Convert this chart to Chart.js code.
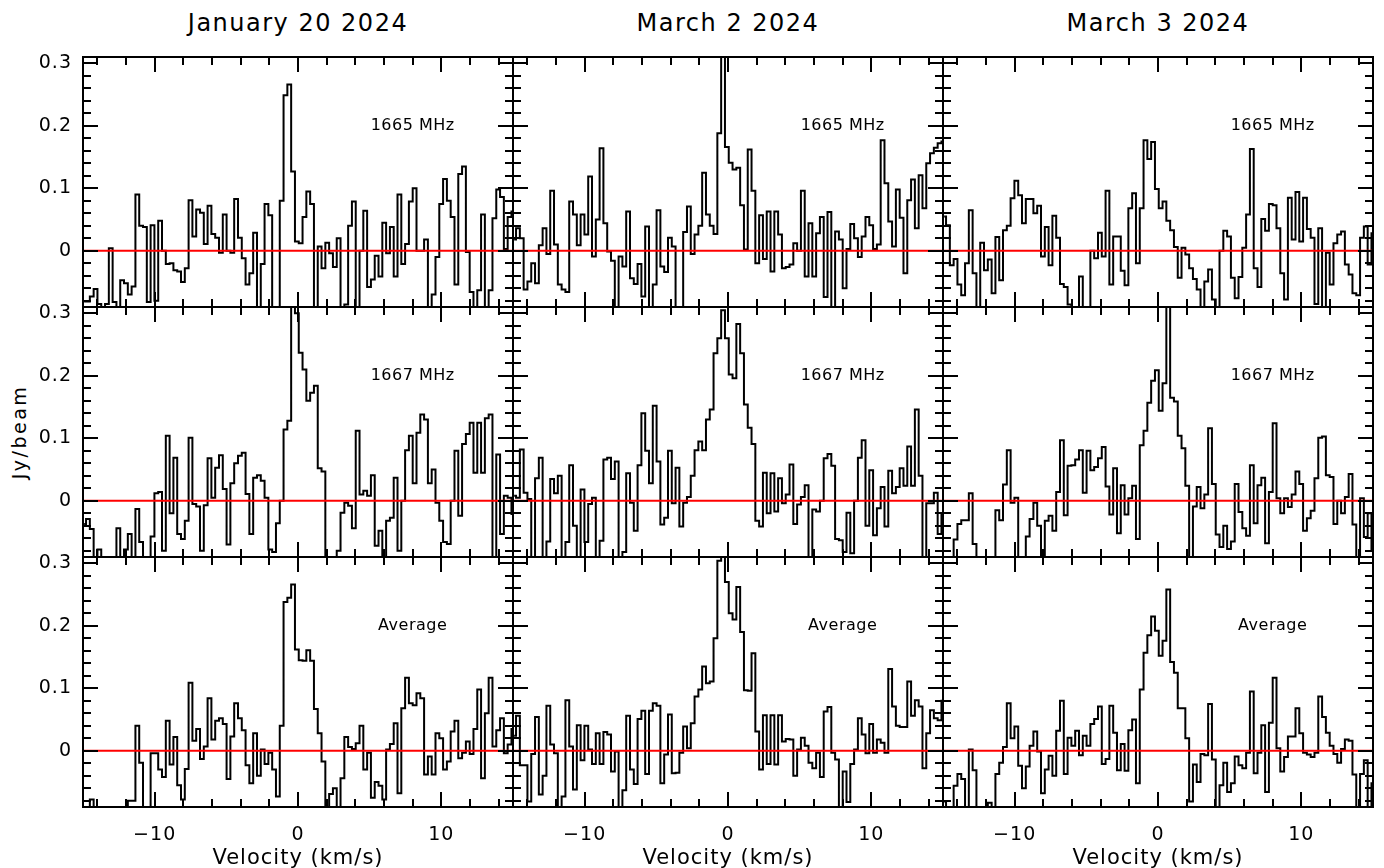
<!DOCTYPE html>
<html>
<head>
<meta charset="utf-8">
<script src="https://cdn.jsdelivr.net/npm/chart.js@4.4.1/dist/chart.umd.min.js"></script>
<style>
  body { margin: 0; background: #fff; overflow: hidden; }
  #fig { position: relative; width: 1384px; height: 868px; font-family: 'DejaVu Sans', sans-serif; color: #000; }
  .panel { position: absolute; }
  .coltitle { position: absolute; top: 11px; font-size: 24px; line-height: 24px; letter-spacing: 1.5px; white-space: nowrap; transform: translateX(-50%); }
  .ylab { position: absolute; left: 19px; top: 432px; font-size: 19px; letter-spacing: 2.5px; white-space: nowrap; transform: translate(-50%, -50%) rotate(-90deg); }
</style>
</head>
<body>
<div id="fig">
  <div class="coltitle" style="left:298px">January 20 2024</div>
  <div class="coltitle" style="left:728px">March 2 2024</div>
  <div class="coltitle" style="left:1158px">March 3 2024</div>
  <div class="ylab">Jy/beam</div>
</div>
<script>
// channel grid (km/s): first channel centre and channel width
const V0 = -14.92;
const DV = 0.265;
const NCHAN = 114;
const velocity = Array.from({ length: NCHAN }, (_, i) => +(V0 + i * DV).toFixed(3));

const dates = ['January 20 2024', 'March 2 2024', 'March 3 2024'];
const lines = ['1665 MHz', '1667 MHz', 'Average'];
const xTicks = [-10, 0, 10];
const yTicks = [0, 0.1, 0.2, 0.3];

// flux density (Jy/beam) per channel
const jan20_1665 = [-0.081, -0.081, -0.073, -0.061, -0.085, -0.09, -0.085, 0.004, -0.082, -0.1,
  -0.047, -0.052, -0.07, -0.057, 0.09, 0.04, 0.038, -0.082, 0.041, -0.08,
  0.048, 0.0, -0.021, -0.02, -0.031, -0.033, -0.05, -0.028, 0.081, 0.023,
  0.066, 0.061, 0.011, 0.072, 0.027, 0.021, -0.003, 0.058, 0.0, -0.003,
  0.083, 0.021, -0.012, -0.054, -0.036, 0.029, -0.1, -0.021, 0.075, 0.057,
  -0.1, -0.1, 0.08, 0.249, 0.266, 0.127, 0.015, 0.012, 0.054, 0.095,
  0.075, -0.1, 0.007, -0.028, 0.013, -0.004, -0.026, 0.02, -0.1, -0.086,
  0.04, 0.079, -0.1, 0.0, 0.064, -0.058, -0.046, -0.008, -0.041, 0.045,
  -0.004, 0.038, -0.041, 0.09, -0.021, 0.011, 0.079, 0.1, 0.0, 0.0,
  0.018, -0.1, -0.07, -0.01, 0.075, 0.115, 0.08, 0.054, -0.054, 0.123,
  0.135, -0.002, -0.066, -0.1, -0.063, 0.058, -0.1, -0.063, 0.052, 0.098,
  0.086, 0.003, 0.054, 0.063];
const jan20_1667 = [-0.037, -0.029, -0.045, -0.1, -0.078, -0.1, -0.1, -0.1, -0.1, -0.044,
  -0.1, -0.078, -0.053, -0.1, -0.013, -0.066, -0.1, -0.1, -0.057, 0.012,
  0.014, -0.08, 0.104, -0.02, 0.069, -0.053, -0.061, -0.032, 0.101, -0.005,
  -0.009, -0.08, -0.007, 0.068, 0.005, 0.053, 0.073, 0.019, -0.07, 0.028,
  0.06, 0.072, 0.077, 0.011, -0.053, 0.037, 0.041, 0.032, 0.005, -0.078,
  -0.082, -0.036, 0.0, 0.114, 0.128, 0.32, 0.3, 0.237, 0.21, 0.16,
  0.173, 0.184, 0.052, 0.047, -0.1, -0.09, -0.09, -0.08, -0.019, -0.003,
  -0.008, -0.044, 0.112, 0.01, 0.016, 0.008, 0.041, -0.072, -0.048, -0.1,
  -0.032, -0.027, 0.037, -0.08, 0.0, 0.081, 0.104, 0.028, 0.109, 0.138,
  0.13, 0.028, 0.05, -0.003, -0.032, -0.066, -0.069, 0.0, 0.08, -0.024,
  0.091, 0.107, 0.125, 0.045, 0.125, 0.045, 0.132, 0.138, -0.1, 0.074,
  -0.053, 0.008, 0.005, -0.021];
const jan20_avg = [-0.1, -0.1, -0.078, -0.1, -0.1, -0.1, -0.1, -0.1, -0.1, -0.1,
  -0.1, -0.1, -0.08, -0.08, 0.04, -0.019, -0.1, -0.1, -0.004, -0.004,
  -0.03, -0.042, 0.048, -0.022, 0.022, -0.055, -0.078, -0.029, 0.109, 0.016,
  0.035, -0.013, 0.007, 0.084, 0.018, 0.048, 0.052, 0.043, -0.045, 0.023,
  0.076, 0.052, 0.033, -0.023, -0.052, 0.028, -0.04, 0.002, -0.021, -0.003,
  -0.03, -0.073, 0.04, 0.238, 0.245, 0.266, 0.162, 0.145, 0.144, 0.161,
  0.144, 0.067, 0.028, -0.017, -0.1, -0.069, -0.06, -0.1, -0.044, 0.022,
  0.006, 0.003, 0.012, 0.04, -0.03, -0.003, -0.075, -0.05, -0.056, -0.078,
  0.002, 0.011, 0.044, -0.068, 0.068, 0.117, 0.076, 0.073, 0.092, 0.084,
  -0.038, -0.009, -0.038, 0.028, 0.02, -0.03, -0.017, 0.031, 0.048, -0.012,
  -0.003, 0.015, -0.005, 0.035, 0.098, -0.044, 0.06, 0.117, 0.007, 0.033,
  0.052, -0.004, 0.01, 0.035];
const mar02_1665 = [0.018, 0.036, 0.02, -0.062, -0.049, -0.02, -0.052, 0.009, 0.036, -0.005,
  0.096, 0.01, -0.054, -0.062, -0.066, 0.079, 0.058, 0.009, 0.058, 0.026,
  0.119, -0.009, 0.05, 0.164, 0.044, -0.001, -0.016, -0.1, -0.009, -0.025,
  0.063, -0.044, -0.053, -0.021, -0.073, 0.039, -0.1, -0.054, 0.065, -0.025,
  -0.034, 0.021, 0.007, -0.1, -0.1, 0.03, 0.071, -0.005, 0.026, 0.04,
  0.125, 0.058, 0.04, 0.027, 0.188, 0.4, 0.166, 0.141, 0.13, 0.133,
  0.073, 0.002, 0.162, 0.096, -0.02, 0.057, -0.013, 0.063, -0.033, 0.063,
  0.026, -0.028, -0.026, -0.022, 0.012, 0.0, 0.096, -0.041, 0.044, -0.041,
  0.028, 0.054, -0.074, 0.062, -0.1, 0.031, 0.018, -0.06, 0.003, 0.043,
  0.02, -0.01, 0.023, 0.054, 0.041, 0.003, 0.01, 0.177, 0.108, 0.047,
  0.007, 0.098, 0.053, -0.036, 0.081, 0.114, 0.036, 0.121, 0.068, 0.14,
  0.156, 0.165, 0.172, 0.175];
const mar02_1667 = [0.008, 0.005, 0.082, 0.013, 0.003, -0.1, 0.036, 0.069, -0.1, -0.065,
  0.035, 0.012, 0.04, -0.1, -0.066, 0.057, -0.04, -0.1, 0.018, -0.066,
  -0.005, 0.005, -0.1, -0.064, 0.066, 0.069, 0.035, 0.063, -0.1, -0.082,
  0.044, -0.003, -0.048, 0.057, 0.14, 0.08, 0.028, 0.152, 0.063, -0.038,
  -0.027, 0.08, -0.004, 0.053, -0.041, -0.003, 0.006, 0.04, 0.081, 0.095,
  0.081, 0.13, 0.146, 0.236, 0.26, 0.305, 0.26, 0.202, 0.196, 0.283,
  0.236, 0.154, 0.117, 0.091, -0.032, -0.041, 0.045, -0.02, 0.044, -0.017,
  0.036, -0.004, 0.01, 0.058, -0.037, -0.006, 0.006, 0.025, -0.1, -0.014,
  -0.017, 0.0, 0.068, 0.075, 0.056, -0.061, -0.063, -0.082, -0.019, -0.084,
  0.0, 0.069, 0.097, -0.04, 0.049, -0.055, -0.012, 0.022, -0.041, 0.048,
  0.012, 0.022, 0.052, 0.024, 0.087, 0.024, 0.146, 0.04, -0.1, -0.004,
  -0.004, 0.013, -0.053, -0.021];
const mar02_avg = [0.024, 0.056, -0.023, -0.023, -0.081, -0.005, 0.054, -0.07, -0.04, 0.072,
  0.01, -0.004, -0.1, -0.073, 0.081, 0.007, -0.062, 0.041, -0.015, 0.04,
  0.002, -0.021, 0.028, -0.021, 0.03, 0.026, -0.033, -0.001, -0.1, -0.063,
  0.056, -0.03, -0.053, 0.051, 0.064, -0.037, 0.064, 0.076, 0.072, -0.052,
  -0.006, 0.058, -0.036, -0.035, -0.003, 0.039, 0.004, 0.044, 0.087, 0.098,
  0.135, 0.108, 0.111, 0.18, 0.304, 0.32, 0.27, 0.22, 0.21, 0.262,
  0.19, 0.097, 0.096, 0.156, 0.031, -0.03, 0.057, -0.021, 0.057, -0.022,
  0.057, 0.015, 0.019, 0.018, -0.04, 0.002, 0.021, 0.008, -0.019, -0.028,
  -0.003, -0.042, 0.063, 0.07, -0.003, -0.014, -0.1, -0.033, -0.082, -0.021,
  0.002, 0.052, 0.026, -0.004, 0.043, -0.003, 0.018, 0.013, -0.003, 0.131,
  0.071, 0.04, 0.038, 0.038, 0.111, 0.056, 0.081, 0.071, -0.028, 0.028,
  0.065, 0.052, 0.049, 0.08];
const mar03_1665 = [0.055, 0.041, -0.023, -0.013, -0.054, -0.071, -0.02, 0.065, -0.036, -0.1,
  0.013, -0.031, -0.014, -0.068, 0.022, -0.047, 0.033, 0.04, 0.084, 0.112,
  0.089, 0.044, 0.083, 0.083, 0.06, 0.072, -0.009, 0.038, -0.023, 0.056,
  0.021, -0.053, -0.058, -0.086, -0.1, -0.1, -0.041, -0.1, -0.1, 0.0,
  -0.012, 0.029, -0.009, 0.096, -0.054, 0.023, 0.023, -0.032, -0.055, 0.068,
  0.092, -0.02, 0.068, 0.177, 0.147, 0.174, 0.099, 0.068, 0.079, 0.048,
  0.033, 0.006, -0.043, 0.005, -0.006, -0.028, -0.045, -0.062, -0.1, -0.049,
  -0.03, -0.078, -0.1, 0.0, 0.032, 0.023, -0.043, -0.076, -0.042, 0.005,
  0.058, 0.163, -0.028, -0.058, 0.051, 0.032, 0.075, 0.073, 0.036, -0.036,
  -0.078, 0.085, 0.018, 0.094, 0.015, 0.085, 0.035, 0.021, -0.085, 0.036,
  -0.1, -0.003, -0.054, 0.012, 0.026, 0.031, -0.022, -0.038, -0.068, -0.071,
  0.021, 0.039, -0.022, 0.028];
const mar03_1667 = [-0.1, -0.1, -0.1, -0.062, -0.037, -0.031, -0.031, 0.012, -0.069, -0.1,
  -0.1, -0.1, -0.1, -0.1, -0.015, -0.031, 0.026, 0.081, -0.003, 0.005,
  -0.1, -0.1, -0.057, -0.029, -0.003, -0.04, -0.1, -0.032, -0.024, -0.048,
  0.014, 0.097, -0.023, 0.056, 0.057, 0.066, 0.081, 0.013, 0.08, 0.049,
  0.054, 0.068, 0.086, 0.023, -0.022, 0.052, -0.052, 0.025, -0.022, 0.004,
  0.024, -0.061, 0.089, 0.112, 0.157, 0.192, 0.209, 0.144, 0.188, 0.33,
  0.165, 0.159, 0.104, 0.084, 0.024, -0.1, -0.009, 0.022, -0.012, 0.01,
  0.116, 0.027, -0.054, -0.074, -0.04, -0.077, -0.065, 0.027, -0.018, -0.044,
  -0.056, 0.057, -0.036, 0.025, 0.037, -0.068, 0.014, 0.124, 0.004, -0.02,
  0.004, -0.01, 0.01, 0.047, 0.027, -0.048, -0.028, -0.016, 0.036, 0.101,
  0.103, 0.041, 0.038, -0.037, 0.0, -0.02, 0.006, 0.043, -0.038, -0.1,
  0.004, -0.058, -0.02, -0.08];
const mar03_avg = [-0.081, -0.1, -0.1, -0.056, -0.037, -0.045, -0.1, 0.002, -0.031, -0.1,
  -0.1, -0.1, -0.083, -0.1, -0.037, -0.019, 0.006, 0.076, 0.02, 0.039,
  -0.024, -0.06, -0.025, 0.008, 0.031, -0.001, -0.068, -0.03, -0.008, -0.04,
  0.032, 0.08, -0.037, 0.021, 0.008, 0.032, -0.007, 0.024, 0.008, 0.043,
  0.051, 0.071, -0.021, -0.013, 0.072, 0.029, -0.031, 0.011, -0.032, 0.033,
  0.05, -0.052, 0.098, 0.157, 0.185, 0.215, 0.192, 0.152, 0.176, 0.258,
  0.142, 0.125, 0.068, 0.068, 0.02, -0.081, -0.022, -0.05, -0.005, -0.007,
  0.075, -0.014, -0.1, -0.055, -0.019, -0.066, -0.052, -0.009, -0.023, -0.028,
  -0.003, 0.095, -0.036, -0.003, 0.041, -0.066, 0.045, 0.117, 0.004, -0.033,
  -0.01, 0.023, 0.023, 0.068, 0.028, -0.003, -0.006, -0.01, -0.003, 0.087,
  0.054, 0.029, 0.008, -0.005, -0.019, 0.003, 0.018, 0.016, -0.038, -0.1,
  -0.037, -0.015, -0.1, -0.052];

// rows = line, columns = date
const spectra = [
  [jan20_1665, mar02_1665, mar03_1665],
  [jan20_1667, mar02_1667, mar03_1667],
  [jan20_avg, mar02_avg, mar03_avg]
];

// panel geometry (px)
const PANEL_W = 430, PANEL_H = 250;
const PANEL_X0 = 83, PANEL_Y0 = 57;
const PAD_L = 80, PAD_T = 10, PAD_R = 10, PAD_B = 61;
const TICK_MAJOR = 15, TICK_MINOR = 8;

// keep every panel's plot area the same size whatever labels it carries
function fixBox(scale, w, h) {
  if (w !== undefined) scale.width = w;
  if (h !== undefined) scale.height = h;
  scale.paddingLeft = 0;
  scale.paddingRight = 0;
  scale.paddingTop = 0;
  scale.paddingBottom = 0;
}

// frame with inward ticks on all sides, red zero line and panel label
const framePlugin = {
  id: 'frame',
  beforeDraw(chart) {
    chart.ctx.letterSpacing = '1px';
  },
  afterDatasetsDraw(chart, args, opts) {
    const { ctx, chartArea: a, scales: { x, y } } = chart;
    const seg = (x1, y1, x2, y2) => { ctx.beginPath(); ctx.moveTo(x1, y1); ctx.lineTo(x2, y2); ctx.stroke(); };
    ctx.save();
    ctx.lineCap = 'butt';

    ctx.strokeStyle = '#ff0000';
    ctx.lineWidth = 2;
    const y0 = y.getPixelForValue(0);
    seg(a.left, y0, a.right, y0);

    ctx.strokeStyle = '#000';
    ctx.lineWidth = 2;
    ctx.strokeRect(a.left, a.top, a.width, a.height);

    for (let v = -14; v <= 14; v += 2) {
      const len = v % 10 === 0 ? TICK_MAJOR : TICK_MINOR;
      const px = Math.round(x.getPixelForValue(v));
      seg(px, a.top, px, a.top + len);
      seg(px, a.bottom, px, a.bottom - len);
    }
    for (let k = -4; k <= 15; k++) {
      const len = k % 5 === 0 ? TICK_MAJOR : TICK_MINOR;
      const py = Math.round(y.getPixelForValue(k * 0.02));
      seg(a.left, py, a.left + len, py);
      seg(a.right, py, a.right - len, py);
    }

    ctx.fillStyle = '#000';
    ctx.font = "16px 'DejaVu Sans'";
    ctx.letterSpacing = '0.5px';
    ctx.textAlign = 'center';
    ctx.textBaseline = 'middle';
    ctx.fillText(opts.label, x.getPixelForValue(8), y.getPixelForValue(0.2));
    ctx.restore();
  }
};

const fig = document.getElementById('fig');

function createPanel(row, col) {
  const isLeft = col === 0;
  const isBottom = row === 2;
  const values = spectra[row][col];

  const wrap = document.createElement('div');
  wrap.className = 'panel';
  wrap.style.left = (PANEL_X0 + col * PANEL_W - PAD_L) + 'px';
  wrap.style.top = (PANEL_Y0 + row * PANEL_H - PAD_T) + 'px';
  const canvas = document.createElement('canvas');
  canvas.width = PAD_L + PANEL_W + PAD_R;
  canvas.height = PAD_T + PANEL_H + PAD_B;
  wrap.appendChild(canvas);
  fig.appendChild(wrap);

  const tickFont = { family: "'DejaVu Sans'", size: 19 };

  new Chart(canvas.getContext('2d'), {
    type: 'line',
    data: {
      datasets: [{
        data: velocity.map((v, i) => ({ x: v, y: values[i] })),
        stepped: 'middle',
        borderColor: '#000',
        borderWidth: 2,
        borderJoinStyle: 'miter',
        pointRadius: 0,
        fill: false,
        clip: 0
      }]
    },
    options: {
      responsive: false,
      animation: false,
      events: [],
      layout: { padding: { top: PAD_T, right: PAD_R, left: 0, bottom: 0 } },
      plugins: {
        legend: { display: false },
        tooltip: { enabled: false },
        frame: { label: lines[row] }
      },
      scales: {
        x: {
          type: 'linear',
          min: -15,
          max: 15,
          display: true,
          grid: { display: false, drawTicks: false },
          border: { display: false },
          afterBuildTicks: s => { s.ticks = xTicks.map(v => ({ value: v })); },
          afterFit: s => fixBox(s, undefined, PAD_B),
          ticks: {
            display: isBottom,
            color: '#000',
            font: tickFont,
            padding: 17,
            maxRotation: 0,
            autoSkip: false,
            callback: v => String(v).replace('-', '\u2212')
          },
          title: {
            display: isBottom,
            text: 'Velocity (km/s)',
            color: '#000',
            font: { family: "'DejaVu Sans'", size: 21 },
            padding: { top: 0, bottom: -3 }
          }
        },
        y: {
          type: 'linear',
          min: -0.09,
          max: 0.31,
          display: true,
          grid: { display: false, drawTicks: false },
          border: { display: false },
          afterBuildTicks: s => { s.ticks = yTicks.map(v => ({ value: v })); },
          afterFit: s => fixBox(s, PAD_L, undefined),
          ticks: {
            display: isLeft,
            color: '#000',
            font: tickFont,
            padding: 11,
            callback: v => String(v)
          }
        }
      }
    },
    plugins: [framePlugin]
  });
}

for (let r = 0; r < 3; r++) {
  for (let c = 0; c < 3; c++) {
    createPanel(r, c);
  }
}
</script>
</body>
</html>
